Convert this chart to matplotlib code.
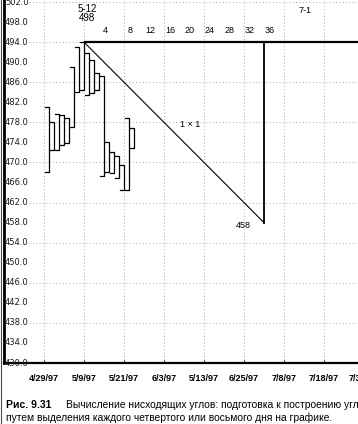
import numpy as np
import matplotlib.pyplot as plt

plt.rcParams['font.family'] = ['Liberation Sans', 'DejaVu Sans']

# === data ===
# trading day index (0 = 4/29/97), daily high and low
bar_day = list(range(1, 19))
bar_high = [481.0, 478.0, 479.7, 479.5, 478.9, 489.0, 493.0, 494.0, 491.8,
            490.4, 487.8, 487.2, 474.1, 472.1, 471.3, 469.5, 478.9, 476.9]
bar_low = [468.0, 472.5, 472.5, 473.5, 473.9, 477.0, 484.0, 484.5, 483.4,
           483.8, 484.4, 467.3, 468.1, 467.9, 466.8, 464.5, 464.5, 472.9]

date_days = [0, 8, 16, 24, 32, 40, 48, 56, 64]
date_labels = ["4/29/97", "5/9/97", "5/21/97", "6/3/97", "5/13/97",
               "6/25/97", "7/8/97", "7/18/97", "7/30/97"]

price_ticks = np.arange(430, 503, 4)
grid_prices = np.arange(438, 503, 8)

high_day = 8          # 5-12 top
high_price = 494.0
angle_days = 36       # 1x1 run length
day_counts = [4, 8, 12, 16, 20, 24, 28, 32, 36]

caption_num = "Рис. 9.31"
caption_1 = "Вычисление нисходящих углов: подготовка к построению угла"
caption_2 = "путем выделения каждого четвертого или восьмого дня на графике."

# === figure ===
W, H = 358, 424
fig = plt.figure(figsize=(W / 100, H / 100), dpi=100)
# axes spans past the right/top edge so the scan's cut-off look is kept
ax = fig.add_axes([4 / W, 61 / H, 370 / W, 363 / H])
ax.set_xlim(-8, 66)
ax.set_ylim(430, 502.4)

for s in ["top", "right"]:
    ax.spines[s].set_visible(False)
ax.spines["left"].set_linewidth(2.0)
ax.spines["bottom"].set_linewidth(1.6)

ax.set_xticks(date_days)
ax.set_xticklabels(date_labels, fontsize=6.5, fontweight="bold")
ax.tick_params(axis="x", direction="in", length=2, pad=8, width=0.6)
ax.set_yticks([])

# dotted grid
ax.grid(axis="x", linestyle=(0, (1, 3)), color="0.55", linewidth=0.6)
ax.hlines(grid_prices, -3, 66, colors="0.55", linestyles=(0, (1, 3)), linewidth=0.6)

# price labels sit inside the frame
ytr = ax.get_yaxis_transform()
for p in price_ticks:
    ax.text(0.003, p, f"{p:.1f}", transform=ytr, fontsize=6,
            family="DejaVu Sans", ha="left", va="center", color="0.1")

# bars drawn as "]" brackets
for d, hi, lo in zip(bar_day, bar_high, bar_low):
    ax.plot([d - 0.9, d, d, d - 0.9], [hi, hi, lo, lo], color="black", lw=0.9)

# angle construction
x_end = high_day + angle_days
low_price = high_price - angle_days
ax.plot([high_day, 66], [high_price, high_price], color="black", lw=1.6,
        solid_capstyle="butt")
ax.plot([high_day, x_end], [high_price, low_price], color="black", lw=0.8)
ax.plot([x_end, x_end], [low_price, high_price], color="black", lw=1.3)

for n in day_counts:
    ax.text(high_day + n + (0.2 if n == 4 else 1.2), 496.4, str(n),
            fontsize=6.5, ha="center", va="center")

ax.text(high_day + 0.6, 500.6, "5-12", fontsize=7, ha="center", va="center")
ax.text(high_day + 0.6, 498.8, "498", fontsize=7, ha="center", va="center")
ax.text(52.2, 500.4, "7-1", fontsize=6.5, ha="center", va="center")
ax.text(29.2, 477.5, "1 × 1", fontsize=6.5, ha="center", va="center")
ax.text(39.8, 457.5, "458", fontsize=6.5, ha="center", va="center")

# left frame edge of the scan
fig.add_artist(plt.Line2D([0.6 / W, 0.6 / W], [0, 1], color="0.3", lw=0.8))

fig.text(6 / W, 1 - 405 / H, caption_num, fontsize=7.5, fontweight="bold",
         ha="left", va="center")
fig.text(66 / W, 1 - 405 / H, caption_1, fontsize=7.35, ha="left", va="center")
fig.text(6 / W, 1 - 418 / H, caption_2, fontsize=7.35, ha="left", va="center")

fig.savefig("out.png", dpi=100)
